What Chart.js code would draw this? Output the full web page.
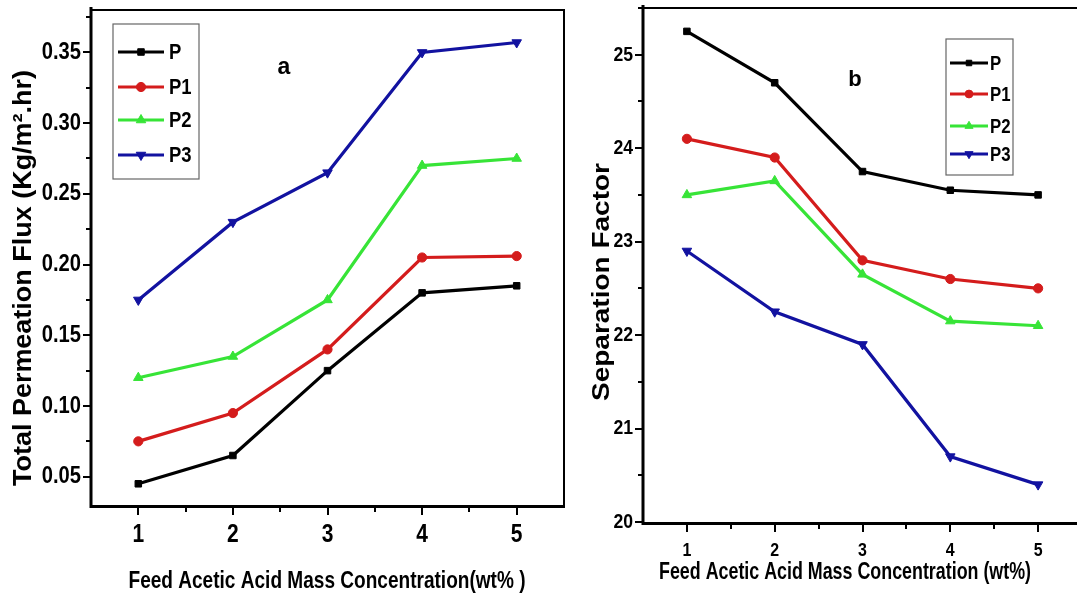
<!DOCTYPE html>
<html><head><meta charset="utf-8">
<script src="https://cdn.jsdelivr.net/npm/chart.js@4.4.0/dist/chart.umd.min.js"></script>
<style>
html,body{margin:0;padding:0;background:#fff;overflow:hidden;width:1077px;height:596px;}
#c1{position:absolute;left:0;top:0;}
#c2{position:absolute;left:560px;top:0;}
</style></head><body>
<canvas id="c1" width="580" height="596"></canvas>
<canvas id="c2" width="540" height="596"></canvas>
<script>
// ---- data ----
const concentration = [1, 2, 3, 4, 5];
const seriesNames = ['P', 'P1', 'P2', 'P3'];
const fluxP  = [0.045, 0.065, 0.125, 0.180, 0.185];
const fluxP1 = [0.075, 0.095, 0.140, 0.205, 0.206];
const fluxP2 = [0.120, 0.135, 0.175, 0.270, 0.275];
const fluxP3 = [0.175, 0.230, 0.265, 0.350, 0.357];
const sepP  = [25.25, 24.70, 23.75, 23.55, 23.50];
const sepP1 = [24.10, 23.90, 22.80, 22.60, 22.50];
const sepP2 = [23.50, 23.65, 22.65, 22.15, 22.10];
const sepP3 = [22.90, 22.25, 21.90, 20.70, 20.40];
const xTickLabels = [1, 2, 3, 4, 5];
const fluxTicks = [0.05, 0.10, 0.15, 0.20, 0.25, 0.30, 0.35];
const sepTicks = [20, 21, 22, 23, 24, 25];

const colors = ['#000000', 'rgb(212,28,28)', 'rgb(55,228,55)', 'rgb(18,18,160)'];
const pStyles = ['rect', 'circle', 'triangle', 'triangle'];
const pRot = [0, 0, 0, 180];
const pRad = [4.6, 4.6, 5.5, 5.5];
const FONT = '"Liberation Sans", Arial, sans-serif';

function makeDatasets(arrs) {
  return arrs.map((vals, i) => ({
    label: seriesNames[i],
    data: vals.map((v, j) => ({x: concentration[j], y: v})),
    borderColor: colors[i],
    backgroundColor: colors[i],
    borderWidth: 3.2,
    pointStyle: pStyles[i],
    rotation: pRot[i],
    pointRadius: pRad[i],
    pointBorderWidth: 1,
    tension: 0
  }));
}

// draw text compressed/stretched horizontally (along its baseline)
function txt(ctx, s, x, y, size, sx, align, rot, targetW) {
  ctx.save();
  ctx.font = 'bold ' + size + 'px ' + FONT;
  ctx.textAlign = align;
  ctx.textBaseline = 'middle';
  ctx.translate(x, y);
  if (rot) ctx.rotate(rot);
  let k = sx;
  if (targetW) k = targetW / ctx.measureText(s).width;
  ctx.scale(k, 1);
  ctx.fillStyle = '#000';
  ctx.fillText(s, 0, 0);
  ctx.restore();
}

function frameAndLegend(cfg) {
  return {
    id: 'frame',
    afterDraw(chart) {
      const {ctx, chartArea: a, scales: {x, y}} = chart;
      ctx.save();
      ctx.strokeStyle = '#000';
      ctx.lineCap = 'butt';
      // box
      ctx.lineWidth = 2;
      ctx.beginPath();
      ctx.moveTo(a.left, a.top); ctx.lineTo(a.right, a.top); ctx.lineTo(a.right, a.bottom);
      ctx.stroke();
      ctx.lineWidth = 3;
      ctx.beginPath();
      ctx.moveTo(a.left, a.top - 3); ctx.lineTo(a.left, a.bottom + 1.5); ctx.lineTo(a.right + 1, a.bottom + 1.5);
      ctx.stroke();
      // ticks
      ctx.lineWidth = 2;
      const yt = cfg.yTicks;
      const yStep = yt[1] - yt[0];
      const yAll = [];
      for (let k = 0; k < yt.length; k++) { yAll.push([yt[k], 8]); yAll.push([yt[k] + yStep / 2, 5]); }
      yAll.forEach(([v, len]) => {
        if (v < y.min - 1e-9 || v > y.max + 1e-9) return;
        const py = Math.round(y.getPixelForValue(v));
        ctx.beginPath(); ctx.moveTo(a.left, py); ctx.lineTo(a.left - len, py); ctx.stroke();
      });
      const xAll = [];
      xTickLabels.forEach(v => { xAll.push([v, 8]); xAll.push([v + 0.5, 5]); });
      xAll.forEach(([v, len]) => {
        if (v < x.min || v > x.max - 0.01) return;
        const px = Math.round(x.getPixelForValue(v));
        ctx.beginPath(); ctx.moveTo(px, a.bottom + 2); ctx.lineTo(px, a.bottom + 2 + len); ctx.stroke();
      });
      // tick labels
      yt.forEach(v => {
        txt(ctx, cfg.yFmt(v), a.left - cfg.yLabGap, y.getPixelForValue(v), cfg.tickSize, 0.84, 'right');
      });
      xTickLabels.forEach(v => {
        txt(ctx, String(v), x.getPixelForValue(v), a.bottom + cfg.xLabGap, cfg.xTickSize, 0.84, 'center');
      });
      // axis titles
      txt(ctx, cfg.xTitle, cfg.xTitlePos[0], cfg.xTitlePos[1], cfg.xTitleSize, 1, 'center', 0, cfg.xTitleW);
      txt(ctx, cfg.yTitle, cfg.yTitlePos[0], cfg.yTitlePos[1], cfg.yTitleSize, 1, 'center', -Math.PI / 2, cfg.yTitleW);
      // panel letter
      txt(ctx, cfg.letter, cfg.letterPos[0], cfg.letterPos[1], cfg.letterSize, 1, 'center');
      // legend
      const L = cfg.legend;
      ctx.strokeStyle = '#666';
      ctx.lineWidth = 1.2;
      ctx.strokeRect(L.box[0], L.box[1], L.box[2], L.box[3]);
      chart.data.datasets.forEach((ds, i) => {
        const yy = L.rows[i];
        ctx.strokeStyle = ds.borderColor;
        ctx.lineWidth = 3.2;
        ctx.beginPath(); ctx.moveTo(L.line[0], yy); ctx.lineTo(L.line[1], yy); ctx.stroke();
        ctx.fillStyle = ds.backgroundColor;
        ctx.lineWidth = 1;
        Chart.helpers.drawPoint(ctx, {pointStyle: ds.pointStyle, rotation: ds.rotation, radius: ds.pointRadius * L.mk, borderWidth: 1}, (L.line[0] + L.line[1]) / 2, yy);
        txt(ctx, ds.label, L.textX, yy + 1, L.size, 0.84, 'left');
      });
      ctx.restore();
    }
  };
}

function makeChart(id, arrs, yMin, yMax, yTicks, dims, cfg) {
  return new Chart(document.getElementById(id), {
    type: 'line',
    data: {datasets: makeDatasets(arrs)},
    options: {
      responsive: false,
      animation: false,
      devicePixelRatio: 1,
      layout: {padding: {left: 0, top: dims.top, right: dims.right, bottom: 0}},
      plugins: {legend: {display: false}, tooltip: {enabled: false}},
      scales: {
        x: {
          type: 'linear', min: 0.5, max: 5.5,
          afterBuildTicks: s => { s.ticks = xTickLabels.map(v => ({value: v})); },
          afterFit: s => { s.height = dims.xHeight; },
          grid: {display: false, drawTicks: false},
          border: {display: false},
          ticks: {display: false}
        },
        y: {
          type: 'linear', min: yMin, max: yMax,
          afterBuildTicks: s => { s.ticks = yTicks.map(v => ({value: v})); },
          afterFit: s => { s.width = dims.yWidth; },
          grid: {display: false, drawTicks: false},
          border: {display: false},
          ticks: {display: false}
        }
      }
    },
    plugins: [frameAndLegend(cfg)]
  });
}

makeChart('c1', [fluxP, fluxP1, fluxP2, fluxP3], 0.03, 0.38, fluxTicks,
  {top: 10, right: 16, xHeight: 91, yWidth: 91},
  {
    yTicks: fluxTicks, yFmt: v => v.toFixed(2),
    tickSize: 24, xTickSize: 25, yLabGap: 10, xLabGap: 30,
    xTitle: 'Feed Acetic Acid Mass Concentration(wt% )', xTitlePos: [327, 581], xTitleSize: 24, xTitleW: 397,
    yTitle: 'Total Permeation Flux (Kg/m\u00B2.hr)', yTitlePos: [24, 278], yTitleSize: 25, yTitleW: 416,
    letter: 'a', letterPos: [284, 68], letterSize: 23,
    legend: {box: [113, 24, 86, 155], rows: [52, 87, 120, 155], line: [118, 164], textX: 169, size: 22, mk: 1}
  });

makeChart('c2', [sepP, sepP1, sepP2, sepP3], 20, 25.5, sepTicks,
  {top: 8, right: 18, xHeight: 74, yWidth: 83},
  {
    yTicks: sepTicks, yFmt: v => String(v),
    tickSize: 21, xTickSize: 19, yLabGap: 10, xLabGap: 29,
    xTitle: 'Feed Acetic Acid Mass Concentration (wt%)', xTitlePos: [285, 572], xTitleSize: 24, xTitleW: 372,
    yTitle: 'Separation Factor', yTitlePos: [42, 282], yTitleSize: 24, yTitleW: 238,
    letter: 'b', letterPos: [295, 80], letterSize: 22,
    legend: {box: [386, 39, 67, 136], rows: [63, 94, 126, 154], line: [390, 428], textX: 430, size: 20, mk: 0.85}
  });
</script>
</body></html>
